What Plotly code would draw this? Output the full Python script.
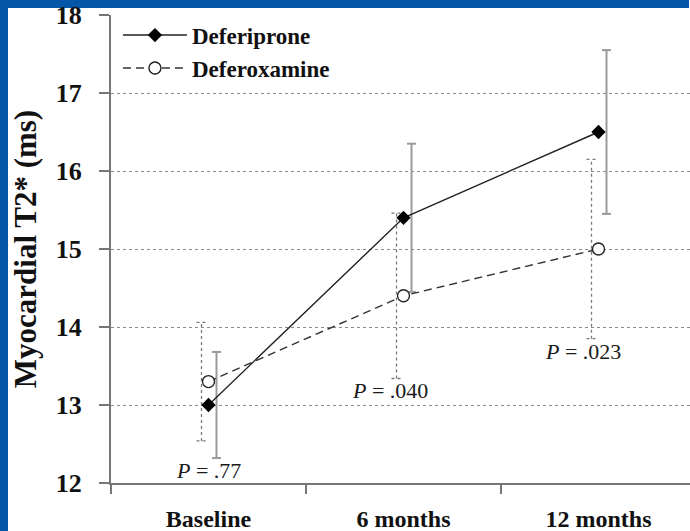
import plotly.graph_objects as go

# Time points and group summaries (mean ± SD of myocardial T2*, ms)
categories = ["Baseline", "6 months", "12 months"]
deferiprone_mean = [13.0, 15.4, 16.5]
deferiprone_sd = [0.68, 0.95, 1.05]
deferoxamine_mean = [13.3, 14.4, 15.0]
deferoxamine_sd = [0.76, 1.06, 1.15]
p_labels = [".77", ".040", ".023"]

y_ticks = [12, 13, 14, 15, 16, 17, 18]

# Layout geometry (pixels)
W, H = 690, 531
ML, MR, MT, MB = 111, 0, 15, 48
CAT_PX = 195.0
BORDER = 8
BLUE = "#0556a9"
SERIF = "Liberation Serif"

plot_w = W - ML - MR
plot_h = H - MT - MB
x_hi = -0.5 + plot_w / CAT_PX
px = 1.0 / CAT_PX  # one pixel in x data units

xs = list(range(len(categories)))


def error_bar_path(xc, mean, sd, dx, cap):
    xx, yy = [], []
    for x, m, s in zip(xc, mean, sd):
        x0 = x + dx
        lo, hi = m - s, m + s
        xx += [x0, x0, None, x0 - cap, x0 + cap, None, x0 - cap, x0 + cap, None]
        yy += [lo, hi, None, hi, hi, None, lo, lo, None]
    return xx, yy


fig = go.Figure()

# Deferoxamine error bars (dotted, shifted left)
ex, ey = error_bar_path(xs, deferoxamine_mean, deferoxamine_sd, -7 * px, 5 * px)
fig.add_trace(go.Scatter(x=ex, y=ey, mode="lines", showlegend=False, hoverinfo="skip",
                         line=dict(color="#7a7a7a", width=1.3, dash="dot")))

# Deferiprone error bars (solid, shifted right)
ex, ey = error_bar_path(xs, deferiprone_mean, deferiprone_sd, 8 * px, 4.5 * px)
fig.add_trace(go.Scatter(x=ex, y=ey, mode="lines", showlegend=False, hoverinfo="skip",
                         line=dict(color="#9a9a9a", width=2)))

fig.add_trace(go.Scatter(
    x=xs, y=deferoxamine_mean, name="Deferoxamine", legendrank=2,
    mode="lines+markers",
    line=dict(color="#333333", width=1.4, dash="8px,5px"),
    marker=dict(symbol="circle", size=12, color="white",
                line=dict(color="#222222", width=1.4)),
))

fig.add_trace(go.Scatter(
    x=xs, y=deferiprone_mean, name="Deferiprone", legendrank=1,
    mode="lines+markers",
    line=dict(color="#222222", width=1.4),
    marker=dict(symbol="diamond", size=11, color="black",
                line=dict(color="black", width=0)),
))

# P-value labels just below the lower error limits
p_dx = [0.0, -0.07, -0.08]
for i, (lab, dx) in enumerate(zip(p_labels, p_dx)):
    low = min(deferiprone_mean[i] - deferiprone_sd[i],
              deferoxamine_mean[i] - deferoxamine_sd[i])
    fig.add_annotation(
        x=xs[i] + dx, y=low - 0.16, xref="x", yref="y",
        text=f"<i>P</i> = {lab}", showarrow=False,
        font=dict(family=SERIF, size=22, color="#1a1a1a"),
        xanchor="center", yanchor="middle",
    )

# Blue slide border along the top and left of the white panel
fig.add_shape(type="rect", xref="paper", yref="paper", layer="below",
              x0=-ML / plot_w, x1=1.0 - 1.0 / plot_w,
              y0=(plot_h + MT - BORDER) / plot_h,
              y1=(plot_h + MT) / plot_h, fillcolor=BLUE, line=dict(width=0))
fig.add_shape(type="rect", xref="paper", yref="paper", layer="below",
              x0=-ML / plot_w, x1=(BORDER - ML) / plot_w, y0=-MB / plot_h,
              y1=(plot_h + MT) / plot_h, fillcolor=BLUE, line=dict(width=0))

fig.update_layout(
    width=W, height=H,
    margin=dict(l=ML, r=MR, t=MT, b=MB, pad=0, autoexpand=False),
    paper_bgcolor="white", plot_bgcolor="white",
    font=dict(family=SERIF, color="#111111"),
    showlegend=True,
    legend=dict(
        x=0.012, y=1.003, xanchor="left", yanchor="top",
        bgcolor="rgba(0,0,0,0)", itemwidth=64, tracegroupgap=0,
        font=dict(family=SERIF, size=23, color="#111111", weight="bold"),
    ),
    xaxis=dict(
        range=[-0.5, x_hi], tickmode="array", tickvals=xs, ticktext=categories,
        ticks="", ticklen=0, showgrid=False, zeroline=False, automargin=False,
        showline=True, linecolor="#777777", linewidth=2,
        tickfont=dict(family=SERIF, size=24, color="#111111", weight="bold"),
        ticklabelstandoff=13,
        minor=dict(tickmode="array", tickvals=[-0.5, 0.5, 1.5, 2.5],
                   ticks="outside", ticklen=9, tickwidth=2, tickcolor="#777777",
                   showgrid=False),
    ),
    yaxis=dict(
        range=[12, 18], tickmode="array", tickvals=y_ticks, automargin=False,
        ticks="outside", ticklen=10, tickwidth=2, tickcolor="#777777",
        showline=True, linecolor="#777777", linewidth=2, zeroline=False,
        showgrid=True, gridcolor="#8a8a8a", gridwidth=1, griddash="dot",
        tickfont=dict(family=SERIF, size=26, color="#111111", weight="bold"),
        ticklabelstandoff=12,
        title=dict(text="Myocardial T2* (ms)", standoff=10,
                   font=dict(family=SERIF, size=31, color="#111111", weight="bold")),
    ),
)

fig.write_html("out.html")
